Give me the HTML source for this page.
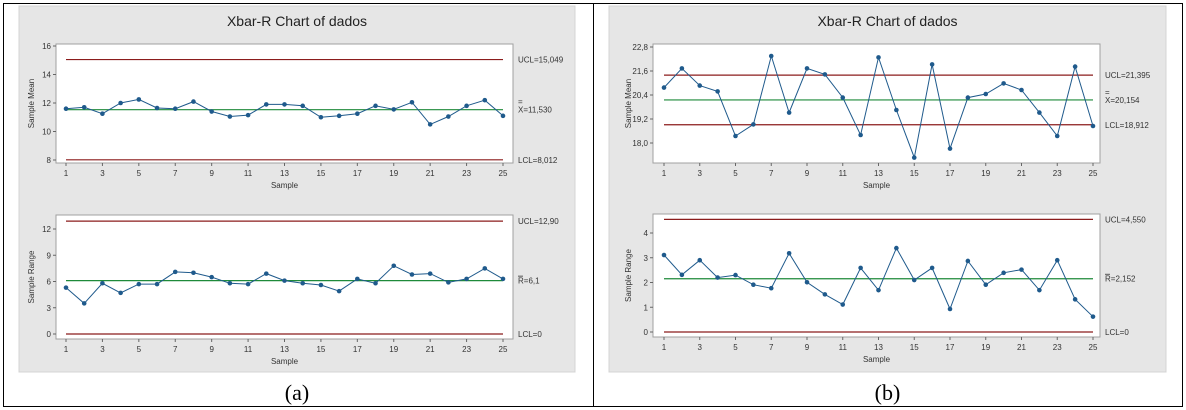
<!DOCTYPE html>
<html><head><meta charset="utf-8">
<style>
html,body{margin:0;padding:0;background:#fff;}
body{width:1186px;height:410px;overflow:hidden;font-family:"Liberation Sans",sans-serif;}
svg{display:block;}
</style></head>
<body>
<svg id="fig" width="1186" height="410" viewBox="0 0 1186 410" xmlns="http://www.w3.org/2000/svg"></svg>
<script>
// ---- Data ----
const samples = [1,2,3,4,5,6,7,8,9,10,11,12,13,14,15,16,17,18,19,20,21,22,23,24,25];
const xTickLabels = [1,3,5,7,9,11,13,15,17,19,21,23,25];

const meanA = [11.6,11.7,11.25,12.0,12.25,11.65,11.6,12.1,11.4,11.05,11.15,11.9,11.9,11.8,11.0,11.1,11.25,11.8,11.55,12.05,10.5,11.05,11.8,12.2,11.1];
const rangeA = [5.3,3.5,5.8,4.7,5.7,5.7,7.1,7.0,6.5,5.8,5.7,6.9,6.1,5.8,5.6,4.9,6.3,5.8,7.8,6.8,6.9,5.9,6.3,7.5,6.3];
const meanB = [20.77,21.73,20.87,20.58,18.35,18.93,22.35,19.52,21.73,21.43,20.27,18.4,22.28,19.65,17.27,21.93,17.72,20.27,20.45,20.98,20.65,19.52,18.35,21.82,18.85];
const rangeB = [3.11,2.31,2.9,2.2,2.3,1.91,1.77,3.18,2.01,1.52,1.11,2.59,1.69,3.39,2.1,2.59,0.93,2.87,1.91,2.39,2.52,1.69,2.9,1.32,0.62];

const meanATicks = [8,10,12,14,16];
const meanATickLabels = ["8","10","12","14","16"];
const rangeATicks = [0,3,6,9,12];
const rangeATickLabels = ["0","3","6","9","12"];
const meanBTicks = [18.0,19.2,20.4,21.6,22.8];
const meanBTickLabels = ["18,0","19,2","20,4","21,6","22,8"];
const rangeBTicks = [0,1,2,3,4];
const rangeBTickLabels = ["0","1","2","3","4"];

const limitsMeanA = [15.049,11.530,8.012];
const limitsRangeA = [12.90,6.1,0];
const limitsMeanB = [21.395,20.154,18.912];
const limitsRangeB = [4.550,2.152,0];
const limitTextMeanA = ["UCL=15,049","X=11,530","LCL=8,012"];
const limitTextRangeA = ["UCL=12,90","R=6,1","LCL=0"];
const limitTextMeanB = ["UCL=21,395","X=20,154","LCL=18,912"];
const limitTextRangeB = ["UCL=4,550","R=2,152","LCL=0"];

const NS="http://www.w3.org/2000/svg";
const svg=document.getElementById('fig');
function mk(tag,attrs,parent){const e=document.createElementNS(NS,tag);for(const k in attrs)e.setAttribute(k,attrs[k]);(parent||svg).appendChild(e);return e;}

const frame=mk('rect',{x:3.5,y:3.5,width:1179,height:403,fill:'none',stroke:'#000','stroke-width':1});


const divl=mk('line',{x1:593.5,y1:3,x2:593.5,y2:407,stroke:'#000','stroke-width':1});



function panel(name,gx,gw,label){
  const g=mk('g',{});
  
  
  const bg=mk('rect',{x:gx,y:6,width:gw,height:366,fill:'#e6e6e6',stroke:'#d4d4d4'},g);
  
  
  const t=mk('text',{x:gx+gw/2,y:26,'text-anchor':'middle','font-size':14,fill:'#222'},g);
  t.textContent='Xbar-R Chart of dados';
  
  
  const c=mk('text',{x:gx+gw/2,y:400,'text-anchor':'middle','font-size':22,'font-family':'Liberation Serif, serif',fill:'#000'},g);
  c.textContent=label;
  
  
  return g;
}

function chart(g,name,px0,px1,py0,py1,x1pos,x25pos,vA,yA,vB,yB,ticks,tickLabels,vals,limits,limText,yTitle,barKind){
  const cg=mk('g',{},g);
  
  
  const xs=i=>x1pos+(i-1)*(x25pos-x1pos)/24;
  const ys=v=>yA+(v-vA)*(yB-yA)/(vB-vA);
  const pa=mk('rect',{x:px0,y:py0,width:px1-px0,height:py1-py0,fill:'#fff',stroke:'#a0a0a0'},cg);
  
  
  ticks.forEach((t,k)=>{
    const y=ys(t);
    const tl=mk('line',{x1:px0-3,y1:y,x2:px0,y2:y,stroke:'#666'},cg);
    
    
    const tx=mk('text',{x:px0-5,y:y+3,'text-anchor':'end','font-size':8,fill:'#333'},cg);
    tx.textContent=tickLabels[k];
    
    
  });
  xTickLabels.forEach(s=>{
    const x=xs(s);
    const tl=mk('line',{x1:x,y1:py1,x2:x,y2:py1+3,stroke:'#666'},cg);
    
    
    const tx=mk('text',{x:x,y:py1+13,'text-anchor':'middle','font-size':8,fill:'#333'},cg);
    tx.textContent=String(s);
    
    
  });
  const xt=mk('text',{x:(px0+px1)/2,y:py1+25,'text-anchor':'middle','font-size':8,fill:'#333'},cg);
  xt.textContent='Sample';
  
  
  const cy=(py0+py1)/2;
  const yt=mk('text',{x:px0-22,y:cy,'text-anchor':'middle','font-size':8,fill:'#333',transform:'rotate(-90 '+(px0-22)+' '+cy+')'},cg);
  yt.textContent=yTitle;
  
  
  const lx0=xs(1), lx1=xs(25);
  limits.forEach((v,k)=>{
    const y=ys(v);
    const ln=mk('line',{x1:lx0,y1:y,x2:lx1,y2:y,stroke:k===1?'#1e8a3a':'#8b1c1c','stroke-width':1.2},cg);
    
    
    const tx=mk('text',{x:px1+5,y:y+3,'font-size':8,fill:'#333'},cg);
    tx.textContent=limText[k];
    
    
    if(k===1){
      if(barKind==='double'){
        const b=mk('text',{x:px1+5,y:y-5,'font-size':8,fill:'#333'},cg);
        b.textContent='=';
        
        
      } else {
        const b=mk('line',{x1:px1+5,y1:y-4.5,x2:px1+10,y2:y-4.5,stroke:'#333','stroke-width':0.8},cg);
        
        
      }
    }
  });
  const pts=samples.map((s,i)=>xs(s).toFixed(1)+','+ys(vals[i]).toFixed(1)).join(' ');
  const pl=mk('polyline',{points:pts,fill:'none',stroke:'#1f5a8c','stroke-width':1},cg);
  
  
  samples.forEach((s,i)=>{
    const p=mk('circle',{cx:xs(s),cy:ys(vals[i]),r:2.3,fill:'#1f5a8c'},cg);
    
    
  });
}

const pa=panel('panel-a',19,556,'(a)');
chart(pa,'xbar-chart-a',56,513,44,163,66,503,8,160,16,46,meanATicks,meanATickLabels,meanA,limitsMeanA,limitTextMeanA,'Sample Mean','double');
chart(pa,'r-chart-a',56,513,215,339,66,503,0,334,12,229,rangeATicks,rangeATickLabels,rangeA,limitsRangeA,limitTextRangeA,'Sample Range','single');

const pb=panel('panel-b',609,557,'(b)');
chart(pb,'xbar-chart-b',653,1100,44,163,664,1093,18.0,143,22.8,47,meanBTicks,meanBTickLabels,meanB,limitsMeanB,limitTextMeanB,'Sample Mean','double');
chart(pb,'r-chart-b',653,1100,214,337,664,1093,0,332,4,233,rangeBTicks,rangeBTickLabels,rangeB,limitsRangeB,limitTextRangeB,'Sample Range','single');
</script>
</body></html>
